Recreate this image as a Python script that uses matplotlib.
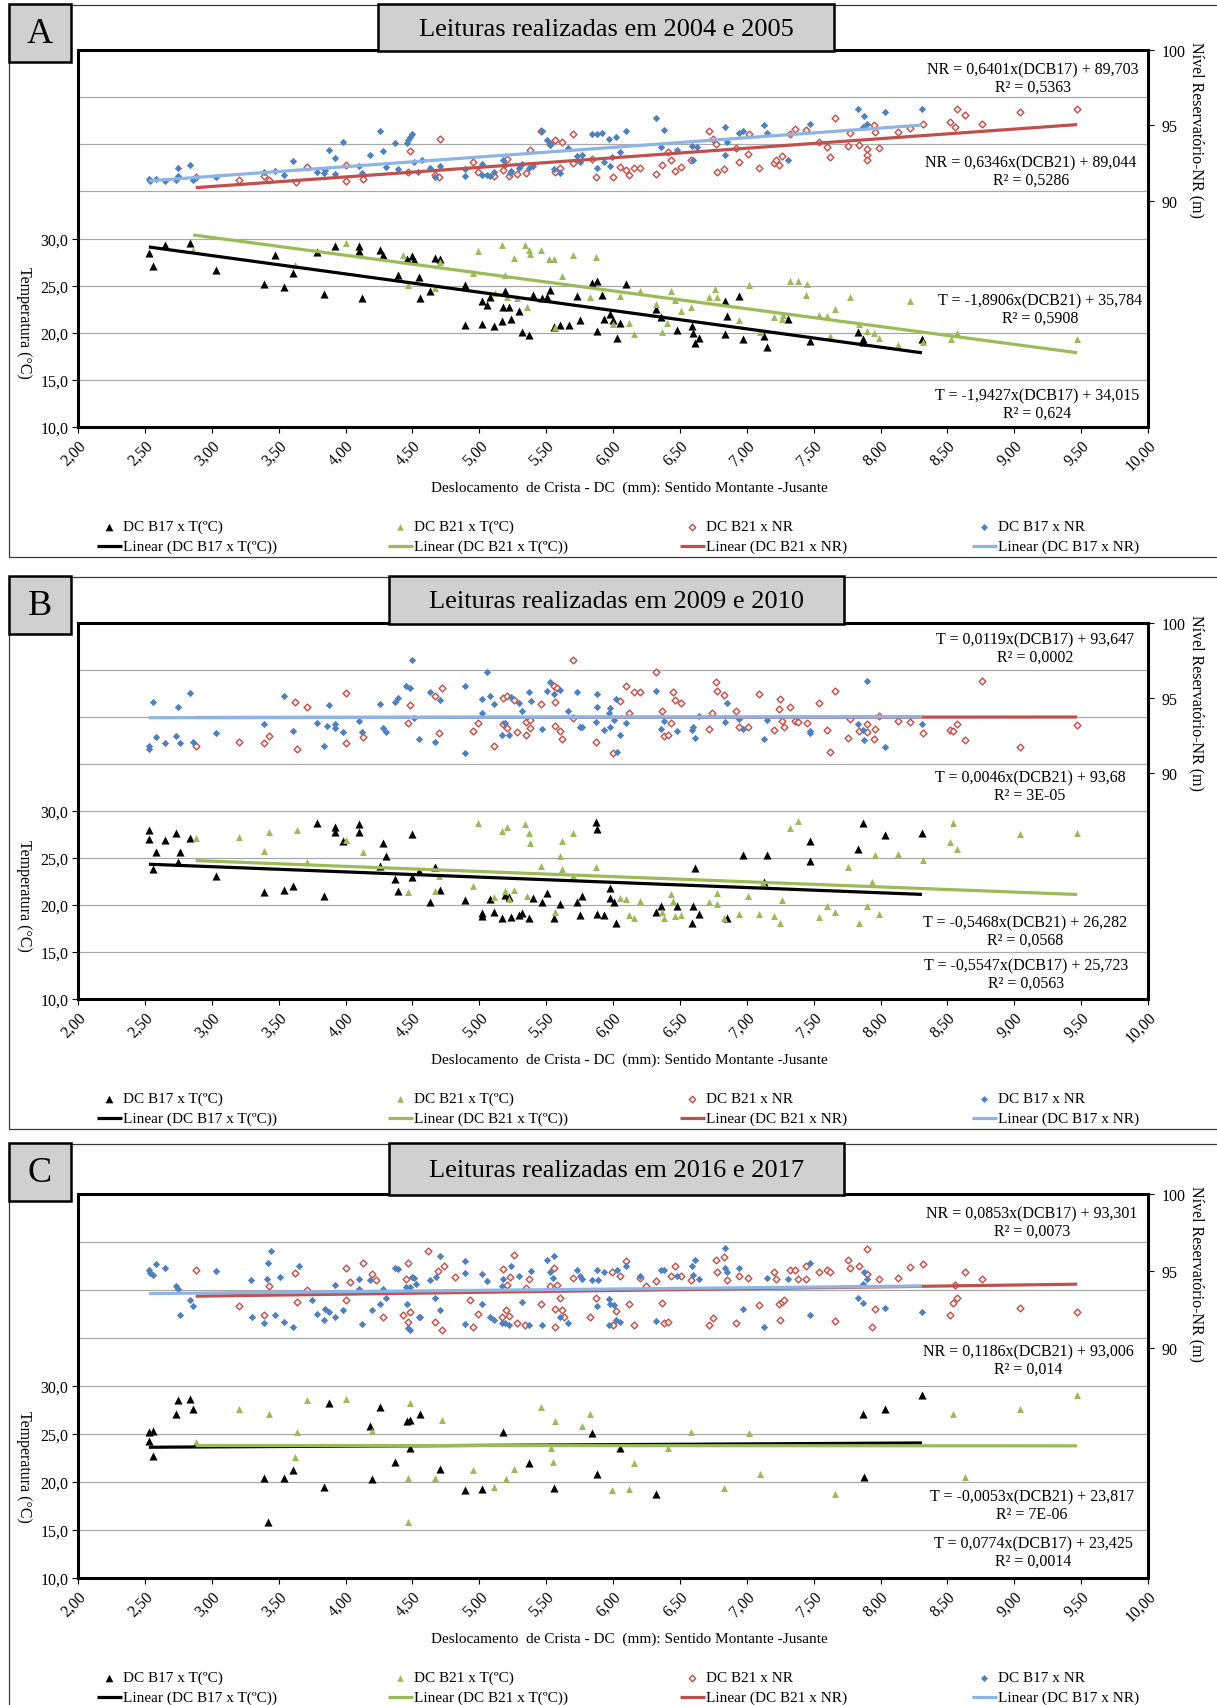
import numpy as np
import matplotlib
matplotlib.use('Agg')
import matplotlib.pyplot as plt
from matplotlib.patches import Rectangle

plt.rcParams['font.family'] = ['Liberation Serif', 'DejaVu Serif']

W, H = 1217, 1706

# =============================================================================
# DATA  -  [DC (mm), value] pairs
# =============================================================================
# ---- A: 2004 / 2005 ----
a_b17_t = np.array([
    [2.53, 28.51], [2.56, 27.13], [2.65, 29.33], [2.84, 29.50], [3.03, 26.67], [3.39, 25.14], [3.47, 28.23],
    [3.54, 24.82], [3.61, 26.31], [3.79, 28.58], [3.84, 24.11], [3.92, 29.22], [4.10, 29.22], [4.10, 28.72],
    [4.12, 23.72], [4.26, 28.79], [4.28, 28.26], [4.39, 26.10], [4.46, 27.84], [4.50, 28.16], [4.51, 27.73],
    [4.55, 25.89], [4.56, 23.72], [4.63, 24.40], [4.67, 27.94], [4.71, 27.84], [4.89, 25.11], [4.89, 20.85],
    [5.02, 23.40], [5.02, 20.92], [5.06, 22.91], [5.08, 23.83], [5.11, 20.71], [5.17, 21.28], [5.18, 22.77],
    [5.19, 24.43], [5.22, 22.77], [5.24, 21.42], [5.30, 22.34], [5.32, 20.04], [5.37, 19.72], [5.40, 23.97],
    [5.47, 23.72], [5.51, 23.76], [5.53, 24.54], [5.56, 20.64], [5.60, 20.85], [5.67, 20.85], [5.73, 23.87],
    [5.75, 21.35], [5.84, 25.25], [5.88, 25.50], [5.88, 20.14], [5.92, 23.97], [5.93, 21.49], [5.98, 21.99],
    [6.00, 21.35], [6.03, 19.47], [6.05, 21.06], [6.10, 25.18], [6.32, 22.48], [6.36, 21.63], [6.48, 20.32],
    [6.59, 20.71], [6.60, 20.00], [6.61, 18.94], [6.64, 19.40], [6.84, 23.40], [6.85, 21.77], [6.84, 19.86],
    [6.94, 23.90], [6.97, 19.29], [7.13, 19.65], [7.15, 18.51], [7.31, 21.42], [7.47, 19.08], [7.83, 20.07],
    [7.87, 19.29], [7.87, 19.01], [8.31, 19.33]])
a_b21_t = np.array([
    [2.86, 28.79], [3.62, 27.20], [4.00, 29.50], [4.43, 28.26], [4.47, 25.07], [4.67, 24.72], [4.71, 27.55],
    [4.95, 26.31], [4.99, 28.72], [5.12, 24.18], [5.17, 29.29], [5.19, 26.13], [5.21, 23.76], [5.26, 27.91],
    [5.28, 23.65], [5.34, 29.33], [5.36, 22.77], [5.37, 28.79], [5.38, 28.37], [5.46, 28.79], [5.52, 27.80],
    [5.56, 27.80], [5.57, 20.64], [5.62, 26.03], [5.70, 28.26], [5.83, 23.76], [5.87, 28.01], [6.00, 20.92],
    [6.05, 23.94], [6.12, 20.99], [6.16, 19.86], [6.20, 24.47], [6.32, 23.05], [6.37, 20.07], [6.40, 20.99],
    [6.43, 24.47], [6.46, 23.48], [6.51, 22.34], [6.58, 22.77], [6.72, 23.76], [6.76, 24.61], [6.78, 23.76],
    [6.94, 21.35], [7.02, 25.07], [7.10, 20.07], [7.20, 21.70], [7.26, 21.42], [7.27, 21.91], [7.32, 25.53],
    [7.38, 25.53], [7.45, 25.18], [7.44, 23.97], [7.54, 21.91], [7.60, 21.77], [7.66, 22.55], [7.62, 19.65],
    [7.77, 23.83], [7.84, 20.92], [7.90, 20.21], [7.95, 19.93], [7.99, 19.40], [8.13, 18.69], [8.22, 23.37],
    [8.32, 19.04], [8.53, 19.36], [8.57, 19.93], [9.47, 19.33]])
a_b21_nr = np.array([
    [2.88, 91.58], [3.20, 91.40], [3.39, 91.62], [3.43, 91.40], [3.63, 91.27], [3.71, 92.24], [4.00, 92.40],
    [4.00, 91.29], [4.13, 91.45], [4.47, 91.89], [4.48, 93.33], [4.71, 94.13], [4.67, 91.73], [4.70, 91.58],
    [4.95, 92.60], [4.99, 91.89], [5.11, 91.62], [5.18, 92.02], [5.22, 91.62], [5.21, 92.77], [5.28, 91.80],
    [5.35, 91.84], [5.38, 93.35], [5.46, 94.66], [5.53, 93.79], [5.57, 94.06], [5.57, 91.91], [5.60, 92.18],
    [5.62, 93.88], [5.70, 94.41], [5.70, 92.51], [5.84, 92.77], [5.87, 91.58], [6.00, 91.58], [6.05, 92.24],
    [6.10, 92.07], [6.12, 91.73], [6.16, 92.18], [6.20, 92.15], [6.32, 91.80], [6.37, 92.38], [6.41, 93.22],
    [6.43, 92.73], [6.46, 91.98], [6.51, 92.24], [6.58, 92.73], [6.72, 94.66], [6.75, 94.10], [6.77, 93.79],
    [6.78, 91.89], [6.83, 92.11], [6.92, 93.48], [6.94, 92.57], [7.01, 93.11], [7.02, 94.44], [7.09, 92.15],
    [7.20, 92.51], [7.22, 92.73], [7.24, 92.35], [7.26, 93.00], [7.32, 94.46], [7.36, 94.73], [7.44, 94.68],
    [7.54, 93.88], [7.60, 93.57], [7.62, 92.91], [7.66, 95.50], [7.77, 94.50], [7.76, 93.62], [7.84, 93.71],
    [7.90, 93.44], [7.90, 93.02], [7.90, 92.73], [7.95, 95.04], [7.96, 94.59], [7.99, 93.51], [8.13, 94.55],
    [8.22, 94.81], [8.32, 95.06], [8.52, 95.21], [8.56, 94.88], [8.57, 96.10], [8.63, 95.66], [8.76, 95.10],
    [9.04, 95.90], [9.47, 96.12]])
a_b17_nr = np.array([
    [2.53, 91.45], [2.54, 91.29], [2.58, 91.45], [2.65, 91.29], [2.73, 91.36], [2.75, 92.18], [2.75, 91.62],
    [2.84, 92.40], [2.86, 91.36], [3.03, 91.58], [3.39, 91.93], [3.47, 91.98], [3.54, 91.71], [3.61, 92.62],
    [3.79, 91.89], [3.84, 91.84], [3.85, 92.02], [3.88, 93.35], [3.92, 92.82], [3.92, 91.80], [3.98, 93.88],
    [4.10, 92.33], [4.12, 91.84], [4.18, 93.02], [4.26, 94.66], [4.28, 93.31], [4.30, 92.22], [4.37, 93.84],
    [4.39, 92.11], [4.46, 93.84], [4.47, 94.06], [4.48, 94.24], [4.50, 94.44], [4.51, 92.55], [4.54, 91.93],
    [4.57, 92.69], [4.63, 92.15], [4.67, 91.58], [4.71, 92.33], [4.89, 91.62], [4.89, 92.11], [5.02, 92.46],
    [5.02, 91.71], [5.06, 91.71], [5.08, 91.62], [5.11, 91.93], [5.18, 92.73], [5.19, 92.35], [5.23, 91.84],
    [5.24, 91.98], [5.30, 92.15], [5.32, 92.46], [5.37, 92.15], [5.40, 92.29], [5.47, 94.66], [5.51, 94.00],
    [5.53, 93.73], [5.56, 92.11], [5.60, 91.84], [5.66, 93.51], [5.73, 93.00], [5.77, 93.04], [5.75, 92.55],
    [5.84, 94.41], [5.88, 94.41], [5.92, 94.50], [5.88, 92.15], [5.93, 92.55], [5.97, 94.10], [5.98, 92.33],
    [6.02, 94.24], [6.05, 93.22], [6.10, 94.61], [5.99, 92.91], [6.32, 95.48], [6.38, 94.70], [6.36, 93.57],
    [6.48, 93.40], [6.59, 93.66], [6.60, 92.73], [6.63, 93.57], [6.84, 94.90], [6.85, 93.88], [6.84, 93.02],
    [6.94, 94.50], [6.97, 94.61], [7.13, 95.04], [7.15, 94.50], [7.31, 92.73], [7.47, 95.12], [7.83, 96.12],
    [7.88, 95.61], [7.87, 94.90], [7.90, 95.08], [8.03, 95.90], [8.31, 96.12]])

# ---- B: 2009 / 2010 ----
b_b17_t = np.array([
    [2.53, 27.91], [2.53, 27.02], [2.56, 23.83], [2.58, 25.60], [2.65, 26.84], [2.73, 27.66], [2.75, 24.54],
    [2.76, 25.67], [2.84, 27.13], [3.03, 23.05], [3.39, 21.35], [3.54, 21.56], [3.61, 21.99], [3.79, 28.69],
    [3.84, 20.89], [3.92, 28.26], [3.92, 27.73], [3.98, 26.77], [4.10, 28.58], [4.10, 27.70], [4.28, 26.60],
    [4.30, 25.18], [4.26, 24.08], [4.37, 22.77], [4.39, 21.45], [4.50, 22.91], [4.50, 27.55], [4.55, 23.58],
    [4.63, 20.35], [4.67, 24.01], [4.71, 21.56], [4.89, 20.53], [5.02, 19.15], [5.02, 18.79], [5.08, 20.60],
    [5.11, 19.29], [5.17, 18.65], [5.19, 21.06], [5.22, 20.82], [5.24, 18.72], [5.30, 18.90], [5.32, 19.15],
    [5.37, 18.58], [5.40, 20.71], [5.47, 20.28], [5.51, 21.28], [5.56, 18.65], [5.60, 20.07], [5.73, 20.35],
    [5.75, 18.97], [5.77, 20.89], [5.87, 28.79], [5.88, 28.01], [5.88, 19.04], [5.93, 18.90], [5.98, 21.77],
    [5.98, 20.71], [6.01, 20.28], [6.02, 18.09], [6.32, 19.29], [6.36, 19.93], [6.48, 19.93], [6.59, 18.09],
    [6.60, 19.93], [6.64, 19.04], [6.61, 23.97], [6.85, 18.65], [6.97, 25.25], [7.13, 22.41], [7.15, 25.35],
    [7.47, 26.74], [7.47, 24.65], [7.83, 25.89], [7.87, 28.72], [8.03, 27.45], [8.31, 27.62]])
b_b21_t = np.array([
    [2.88, 27.09], [3.20, 27.20], [3.39, 25.71], [3.43, 27.73], [3.64, 27.91], [3.71, 24.54], [4.00, 26.84],
    [4.13, 25.60], [4.47, 21.35], [4.67, 21.52], [4.70, 23.05], [4.95, 21.99], [4.99, 28.72], [5.11, 20.85],
    [5.17, 27.80], [5.19, 21.45], [5.21, 28.26], [5.22, 20.64], [5.26, 21.63], [5.34, 28.62], [5.36, 20.89],
    [5.37, 27.66], [5.38, 26.60], [5.46, 24.11], [5.57, 19.29], [5.60, 25.18], [5.62, 26.81], [5.62, 23.76],
    [5.70, 27.66], [5.70, 23.05], [5.87, 24.01], [6.05, 20.71], [6.10, 20.64], [6.12, 18.94], [6.16, 18.62],
    [6.20, 20.39], [6.37, 19.22], [6.38, 18.65], [6.43, 21.17], [6.45, 20.39], [6.46, 18.79], [6.51, 18.94],
    [6.72, 20.35], [6.78, 21.28], [6.78, 20.04], [6.83, 18.65], [6.94, 19.04], [7.01, 20.92], [7.09, 19.04],
    [7.12, 22.34], [7.20, 18.87], [7.26, 20.57], [7.25, 18.09], [7.32, 28.16], [7.38, 28.87], [7.54, 18.69],
    [7.60, 19.93], [7.66, 19.29], [7.76, 24.01], [7.84, 18.09], [7.90, 19.93], [7.94, 22.41], [7.96, 25.32],
    [7.99, 19.08], [8.13, 25.39], [8.32, 24.72], [8.52, 26.70], [8.54, 28.69], [8.57, 25.89], [9.04, 27.48],
    [9.47, 27.62]])
b_b21_nr = np.array([
    [2.88, 91.82], [3.20, 92.04], [3.39, 92.00], [3.43, 92.49], [3.62, 94.70], [3.64, 91.60], [3.71, 94.41],
    [4.00, 95.32], [4.00, 92.00], [4.13, 92.38], [4.47, 93.31], [4.48, 94.55], [4.67, 95.15], [4.72, 95.66],
    [4.70, 92.64], [4.95, 92.82], [4.99, 93.31], [5.11, 91.82], [5.18, 93.26], [5.18, 94.99], [5.21, 95.15],
    [5.21, 93.02], [5.26, 94.86], [5.28, 92.71], [5.35, 92.51], [5.35, 93.42], [5.38, 93.02], [5.38, 93.53],
    [5.46, 94.61], [5.56, 95.81], [5.57, 94.70], [5.57, 93.11], [5.58, 95.66], [5.60, 92.80], [5.62, 92.27],
    [5.70, 97.54], [5.70, 93.68], [5.87, 92.09], [6.00, 91.33], [6.05, 94.79], [6.10, 95.81], [6.12, 93.99],
    [6.16, 95.41], [6.20, 95.41], [6.32, 96.70], [6.37, 94.13], [6.38, 92.49], [6.41, 92.55], [6.43, 93.33],
    [6.45, 95.37], [6.46, 94.88], [6.51, 94.66], [6.72, 92.93], [6.74, 93.99], [6.77, 96.03], [6.78, 95.48],
    [6.83, 95.21], [6.92, 94.15], [6.94, 93.04], [7.01, 93.09], [7.09, 95.26], [7.20, 92.86], [7.24, 94.28],
    [7.25, 94.92], [7.26, 93.48], [7.28, 93.04], [7.32, 94.41], [7.36, 93.48], [7.38, 93.42], [7.45, 93.33],
    [7.54, 94.66], [7.60, 92.89], [7.62, 91.38], [7.66, 95.43], [7.76, 92.33], [7.77, 93.59], [7.84, 92.82],
    [7.90, 93.24], [7.90, 92.71], [7.95, 92.27], [7.96, 92.91], [7.99, 93.82], [8.13, 93.48], [8.22, 93.40],
    [8.32, 92.64], [8.52, 92.89], [8.54, 92.82], [8.57, 93.24], [8.63, 92.22], [8.76, 96.10], [9.04, 91.76],
    [9.47, 93.22]])
b_b17_nr = np.array([
    [2.53, 91.82], [2.53, 91.60], [2.56, 94.70], [2.58, 92.38], [2.65, 92.00], [2.73, 92.49], [2.75, 94.41],
    [2.76, 92.00], [2.84, 95.32], [2.86, 92.04], [3.03, 92.66], [3.39, 93.28], [3.54, 95.15], [3.61, 92.80],
    [3.79, 93.31], [3.84, 91.82], [3.86, 93.11], [3.88, 94.53], [3.92, 93.26], [3.92, 92.97], [3.98, 92.71],
    [4.10, 93.48], [4.12, 92.71], [4.26, 94.61], [4.28, 93.02], [4.30, 92.71], [4.37, 94.70], [4.39, 95.01],
    [4.45, 95.77], [4.48, 95.66], [4.50, 97.54], [4.51, 93.68], [4.55, 92.27], [4.63, 95.41], [4.67, 92.09],
    [4.71, 94.86], [4.89, 95.81], [4.89, 91.33], [5.02, 94.92], [5.02, 93.99], [5.08, 95.10], [5.06, 96.72],
    [5.11, 94.61], [5.17, 92.51], [5.19, 93.33], [5.22, 92.51], [5.24, 95.06], [5.30, 94.66], [5.32, 94.15],
    [5.37, 95.41], [5.39, 94.79], [5.47, 92.93], [5.51, 95.48], [5.53, 96.03], [5.56, 95.23], [5.60, 95.50],
    [5.66, 94.15], [5.73, 95.37], [5.75, 93.04], [5.77, 93.06], [5.87, 93.42], [5.88, 95.26], [5.88, 94.41],
    [5.93, 92.84], [5.97, 93.99], [5.98, 94.30], [5.98, 93.06], [6.01, 93.51], [6.02, 94.92], [6.03, 91.38],
    [6.05, 92.55], [6.10, 93.33], [6.32, 95.43], [6.36, 92.93], [6.38, 93.48], [6.48, 92.80], [6.59, 92.89],
    [6.60, 93.06], [6.61, 92.33], [6.64, 93.77], [6.84, 93.37], [6.85, 94.66], [6.94, 93.59], [6.97, 92.93],
    [7.13, 92.27], [7.15, 93.55], [7.47, 92.82], [7.47, 92.64], [7.83, 93.26], [7.87, 92.86], [7.88, 92.22],
    [7.90, 96.10], [8.03, 91.76], [8.31, 93.24]])

# ---- C: 2016 / 2017 ----
c_b17_t = np.array([
    [2.53, 25.24], [2.56, 25.35], [2.53, 24.30], [2.56, 22.66], [2.73, 27.10], [2.75, 28.57], [2.84, 28.64],
    [2.86, 27.59], [3.39, 20.42], [3.42, 15.80], [3.54, 20.42], [3.61, 21.22], [3.84, 19.51], [3.88, 28.22],
    [4.18, 25.80], [4.20, 20.28], [4.26, 27.80], [4.37, 22.10], [4.46, 26.36], [4.48, 26.50], [4.48, 23.50],
    [4.56, 27.10], [4.71, 21.40], [4.89, 19.13], [5.02, 19.30], [5.18, 25.24], [5.37, 22.03], [5.56, 19.41],
    [5.84, 25.10], [5.88, 20.80], [6.05, 23.50], [6.32, 18.71], [7.87, 27.10], [7.88, 20.52], [8.03, 27.62],
    [8.31, 29.09]])
c_b21_t = np.array([
    [2.88, 24.20], [3.20, 27.62], [3.43, 27.10], [3.62, 22.62], [3.64, 25.24], [3.71, 28.50], [4.00, 28.64],
    [4.20, 25.28], [4.47, 20.38], [4.47, 15.80], [4.48, 28.22], [4.67, 20.38], [4.72, 26.50], [4.95, 21.22],
    [5.11, 19.51], [5.20, 20.28], [5.26, 21.40], [5.46, 27.80], [5.54, 23.50], [5.55, 22.10], [5.57, 26.33],
    [5.77, 25.80], [5.83, 27.10], [5.99, 19.13], [6.12, 19.30], [6.16, 22.03], [6.41, 23.50], [6.58, 25.24],
    [6.83, 19.41], [7.02, 25.10], [7.10, 20.80], [7.66, 18.71], [8.54, 27.10], [8.63, 20.52], [9.04, 27.62],
    [9.47, 29.09]])
c_b21_nr = np.array([
    [2.88, 95.08], [3.20, 92.72], [3.39, 92.11], [3.43, 93.99], [3.62, 94.86], [3.64, 92.94], [3.71, 93.77],
    [4.00, 95.17], [4.00, 93.09], [4.03, 94.30], [4.13, 95.50], [4.20, 94.80], [4.23, 94.43], [4.28, 91.98],
    [4.43, 92.11], [4.45, 94.47], [4.47, 95.50], [4.48, 92.29], [4.47, 91.68], [4.62, 96.28], [4.67, 91.68],
    [4.69, 95.00], [4.72, 91.13], [4.74, 95.28], [4.82, 94.58], [4.93, 93.12], [4.95, 91.35], [4.99, 92.18],
    [5.17, 91.96], [5.18, 95.13], [5.20, 92.46], [5.21, 94.08], [5.22, 92.03], [5.23, 94.62], [5.26, 96.00],
    [5.28, 91.57], [5.34, 91.46], [5.35, 93.86], [5.37, 94.47], [5.46, 92.83], [5.53, 93.99], [5.56, 95.17],
    [5.57, 92.51], [5.57, 91.35], [5.58, 94.08], [5.60, 93.20], [5.62, 92.46], [5.63, 91.96], [5.70, 94.54],
    [5.83, 91.98], [5.87, 93.25], [6.00, 91.46], [5.99, 94.91], [6.02, 92.40], [6.05, 94.69], [6.10, 95.63],
    [6.12, 92.81], [6.16, 91.46], [6.20, 94.56], [6.25, 94.03], [6.32, 94.36], [6.37, 92.92], [6.38, 91.63],
    [6.41, 91.68], [6.43, 94.69], [6.46, 95.28], [6.51, 94.65], [6.58, 94.43], [6.72, 91.46], [6.75, 91.92],
    [6.77, 95.72], [6.78, 94.95], [6.83, 95.93], [6.85, 94.43], [6.92, 91.59], [6.94, 94.69], [7.01, 94.54],
    [7.09, 92.75], [7.20, 94.91], [7.22, 94.47], [7.24, 92.83], [7.25, 91.78], [7.26, 92.94], [7.28, 93.12],
    [7.32, 95.08], [7.36, 95.08], [7.38, 94.47], [7.44, 94.49], [7.44, 95.30], [7.54, 94.95], [7.60, 95.08],
    [7.62, 94.95], [7.66, 91.72], [7.76, 95.72], [7.77, 95.17], [7.84, 95.28], [7.90, 96.44], [7.90, 94.80],
    [7.94, 91.37], [7.96, 92.51], [7.99, 94.47], [8.13, 94.54], [8.22, 95.23], [8.32, 95.47], [8.52, 92.11],
    [8.54, 92.90], [8.56, 94.10], [8.57, 93.23], [8.63, 94.91], [8.76, 94.49], [9.04, 92.61], [9.47, 92.35]])
c_b17_nr = np.array([
    [2.53, 95.08], [2.54, 94.86], [2.56, 94.73], [2.58, 95.45], [2.65, 95.17], [2.73, 93.99], [2.75, 93.82],
    [2.76, 92.11], [2.84, 93.12], [2.86, 92.68], [3.03, 95.00], [3.29, 94.43], [3.30, 91.96], [3.39, 91.63],
    [3.41, 94.47], [3.42, 95.50], [3.44, 96.28], [3.47, 92.11], [3.51, 94.58], [3.54, 91.68], [3.61, 91.35],
    [3.65, 95.28], [3.75, 93.12], [3.79, 92.18], [3.84, 91.78], [3.85, 92.51], [3.88, 92.33], [3.92, 91.96],
    [3.98, 92.46], [3.92, 94.08], [4.10, 94.47], [4.10, 93.82], [4.12, 91.52], [4.18, 94.43], [4.20, 92.44],
    [4.26, 92.81], [4.30, 93.20], [4.28, 93.82], [4.37, 95.19], [4.39, 95.13], [4.45, 93.92], [4.48, 93.92],
    [4.50, 94.62], [4.51, 94.51], [4.46, 92.81], [4.47, 91.30], [4.48, 91.13], [4.53, 94.14], [4.55, 92.00],
    [4.56, 92.00], [4.63, 94.40], [4.67, 93.23], [4.68, 94.58], [4.71, 95.96], [4.71, 92.44], [4.89, 95.63],
    [4.89, 94.86], [4.89, 91.52], [5.02, 94.80], [5.02, 92.81], [5.06, 94.32], [5.08, 92.00], [5.11, 91.78],
    [5.17, 91.63], [5.18, 94.47], [5.17, 94.03], [5.19, 91.57], [5.22, 91.46], [5.24, 95.28], [5.30, 94.69],
    [5.32, 92.94], [5.37, 91.48], [5.39, 95.00], [5.47, 91.46], [5.51, 95.69], [5.53, 94.95], [5.55, 94.56],
    [5.56, 95.96], [5.60, 91.98], [5.66, 91.59], [5.73, 95.08], [5.75, 94.65], [5.77, 94.47], [5.84, 94.40],
    [5.88, 95.08], [5.88, 92.72], [5.89, 94.43], [5.93, 94.91], [5.97, 93.16], [5.98, 92.83], [6.01, 92.77],
    [6.02, 91.81], [6.03, 95.02], [6.05, 91.68], [6.10, 95.28], [6.20, 94.65], [5.97, 91.46], [6.32, 91.70],
    [6.36, 95.08], [6.38, 95.06], [6.48, 94.69], [6.59, 95.28], [6.60, 94.73], [6.61, 95.69], [6.64, 94.47],
    [6.84, 96.46], [6.84, 95.19], [6.85, 94.95], [6.94, 95.15], [6.97, 92.51], [7.13, 91.37], [7.15, 94.54],
    [7.31, 94.47], [7.47, 95.50], [7.47, 92.11], [7.83, 93.23], [7.87, 92.90], [7.87, 94.12], [7.88, 94.91],
    [7.90, 94.49], [8.03, 92.61], [8.31, 92.35]])

# trend lines, order: B17 x T, B21 x T, B21 x NR, B17 x NR
a_slopes = [-1.9427, -1.8906, 0.6346, 0.6401]
a_intercepts = [34.015, 35.784, 89.044, 89.703]
b_slopes = [-0.5547, -0.5468, 0.0046, 0.0119]
b_intercepts = [25.723, 26.282, 93.68, 93.647]
c_slopes = [0.0774, -0.0053, 0.1186, 0.0853]
c_intercepts = [23.425, 23.817, 93.006, 93.301]

a_equations = ['T = -1,9427x(DCB17) + 34,015\nR² = 0,624', 'T = -1,8906x(DCB21) + 35,784\nR² = 0,5908',
               'NR = 0,6346x(DCB21) + 89,044\nR² = 0,5286', 'NR = 0,6401x(DCB17) + 89,703\nR² = 0,5363']
b_equations = ['T = -0,5547x(DCB17) + 25,723\nR² = 0,0563', 'T = -0,5468x(DCB21) + 26,282\nR² = 0,0568',
               'T = 0,0046x(DCB21) + 93,68\nR² = 3E-05', 'T = 0,0119x(DCB17) + 93,647\nR² = 0,0002']
c_equations = ['T = 0,0774x(DCB17) + 23,425\nR² = 0,0014', 'T = -0,0053x(DCB21) + 23,817\nR² = 7E-06',
               'NR = 0,1186x(DCB21) + 93,006\nR² = 0,014', 'NR = 0,0853x(DCB17) + 93,301\nR² = 0,0073']

series_labels = ['DC B17 x T(ºC)', 'DC B21 x T(ºC)', 'DC B21 x NR', 'DC B17 x NR']
trend_labels = ['Linear (DC B17 x T(ºC))', 'Linear (DC B21 x T(ºC))', 'Linear (DC B21 x NR)', 'Linear (DC B17 x NR)']
x_ticks = np.arange(2.0, 10.01, 0.5)
t_ticks = [10, 15, 20, 25, 30]
nr_ticks = [90, 95, 100]

# styles
marker_styles = [
    dict(marker='^', s=34, color='black', linewidths=0),
    dict(marker='^', s=25, color='#9BBB59', linewidths=0),
    dict(marker='D', s=12, facecolor='#F7F4EE', edgecolor='#C0504D', linewidths=1.0),
    dict(marker='D', s=14, color='#4F81BD', linewidths=0),
]
line_colors = ['black', '#9BBB59', '#C0504D', '#8EB4E3']
GRAY_BOX = '#D0D0D0'
FS = 11.5


def px_axes(fig, left, top, right, bottom, **kw):
    return fig.add_axes([left / W, 1 - bottom / H, (right - left) / W, (bottom - top) / H], **kw)


def comma(v, nd):
    return f'{v:.{nd}f}'.replace('.', ',')


def draw_panel(fig, deco, letter, title, title_x, frame_y, plot_y, series, slopes, intercepts, equations, eq_pos):
    top, bottom = plot_y
    ax = px_axes(fig, 78, top, 1148, bottom)
    ax2 = ax.twinx()

    # scatter: temperatures on left axis, reservoir level on right axis
    for i, data in enumerate(series):
        target = ax if i < 2 else ax2
        target.scatter(data[:, 0], data[:, 1], zorder=3, clip_on=False, **marker_styles[i])

    # linear trend lines over each series' DC range
    for i, data in enumerate(series):
        target = ax if i < 2 else ax2
        xx = np.array([data[:, 0].min(), data[:, 0].max()])
        target.plot(xx, slopes[i] * xx + intercepts[i], color=line_colors[i], lw=2.3,
                    solid_capstyle='butt', zorder=4)

    ax.set_xlim(2, 10)
    ax.set_ylim(10, 50)
    ax2.set_ylim(75, 100)

    ax.set_xticks(x_ticks)
    ax.set_xticklabels([comma(v, 2) for v in x_ticks], rotation=45, ha='right',
                       rotation_mode='anchor', fontsize=FS)
    ax.set_yticks(t_ticks)
    ax.set_yticklabels([comma(v, 1) for v in t_ticks], fontsize=FS)
    ax.set_yticks([35, 40, 45, 50], minor=True)
    ax.tick_params(axis='y', which='minor', length=0)
    ax.tick_params(axis='both', which='major', direction='out', length=4, width=0.8, pad=3)
    ax.grid(axis='y', which='both', color='#A9A9A9', lw=0.9)
    ax.set_axisbelow(True)
    for sp in ax.spines.values():
        sp.set_linewidth(2.2)
        sp.set_color('black')

    ax2.set_yticks(nr_ticks)
    ax2.set_yticklabels([str(v) for v in nr_ticks], fontsize=FS)
    ax2.tick_params(axis='y', direction='out', length=4, width=0.8, pad=6)
    for name in ['left', 'top', 'bottom']:
        ax2.spines[name].set_visible(False)
    ax2.spines['right'].set_bounds(88, 100)
    ax2.spines['right'].set_linewidth(1.0)

    # panel frame, letter box and title box
    f0, f1 = frame_y
    deco.add_patch(Rectangle((9, f0), 1240, f1 - f0, fill=False, ec='#3A3A3A', lw=0.9))
    deco.add_patch(Rectangle((9, f0 - 1), 62, 58, fc=GRAY_BOX, ec='black', lw=1.8))
    deco.text(40, f0 + 28, letter, fontsize=26, ha='center', va='center')
    tx0, tx1 = title_x
    deco.add_patch(Rectangle((tx0, f0 - 1), tx1 - tx0, top + 2 - f0, fc=GRAY_BOX, ec='black', lw=1.8))
    deco.text((tx0 + tx1) / 2, (f0 + top) / 2 + 1, title, fontsize=19, ha='center', va='center')

    # axis titles
    deco.text(24, top + 272, 'Temperatura (°C)', fontsize=FS, rotation=270, ha='center', va='center')
    deco.text(1197, top + 79, 'Nível Reservatório-NR (m)', fontsize=FS, rotation=270,
              ha='center', va='center')
    deco.text(629, bottom + 60, 'Deslocamento  de Crista - DC  (mm): Sentido Montante -Jusante',
              fontsize=FS - 0.5, ha='center', va='center')

    # trend line equations
    for txt, (ex, ey) in zip(equations, eq_pos):
        deco.text(ex, ey, txt, fontsize=FS, ha='center', va='center', multialignment='center',
                  linespacing=1.15)

    # legend (4 columns x 2 rows)
    r1, r2 = bottom + 99.5, bottom + 119
    for i, cx in enumerate([110, 401, 693, 985]):
        st = marker_styles[i]
        deco.scatter([cx - 1], [r1], marker=st['marker'], s=st['s'] * 0.9,
                     color=st.get('color'), facecolor=st.get('facecolor', st.get('color')),
                     edgecolor=st.get('edgecolor', st.get('color')), linewidths=st['linewidths'])
        deco.text(cx + 13, r1, series_labels[i], fontsize=FS - 0.5, ha='left', va='center')
        deco.plot([cx - 13, cx + 12], [r2, r2], color=line_colors[i], lw=2.3, solid_capstyle='butt')
        deco.text(cx + 13, r2, trend_labels[i], fontsize=FS - 0.5, ha='left', va='center')


fig = plt.figure(figsize=(W / 100, H / 100), dpi=100)
deco = fig.add_axes([0, 0, 1, 1], zorder=10)
deco.set_xlim(0, W)
deco.set_ylim(H, 0)
deco.axis('off')

draw_panel(fig, deco, 'A', 'Leituras realizadas em 2004 e 2005', (378, 834), (6, 558), (51, 428),
           [a_b17_t, a_b21_t, a_b21_nr, a_b17_nr], a_slopes, a_intercepts, a_equations,
           [(1037, 405), (1040, 310), (1031, 172), (1033, 79)])
draw_panel(fig, deco, 'B', 'Leituras realizadas em 2009 e 2010', (389, 844), (578, 1130), (623.5, 1000),
           [b_b17_t, b_b21_t, b_b21_nr, b_b17_nr], b_slopes, b_intercepts, b_equations,
           [(1026, 975), (1025, 932), (1030, 787), (1035, 649)])
draw_panel(fig, deco, 'C', 'Leituras realizadas em 2016 e 2017', (389, 844), (1145, 1720), (1195, 1579),
           [c_b17_t, c_b21_t, c_b21_nr, c_b17_nr], c_slopes, c_intercepts, c_equations,
           [(1033, 1553), (1032, 1506), (1028, 1361), (1032, 1223)])

fig.savefig('out.png', dpi=100)
